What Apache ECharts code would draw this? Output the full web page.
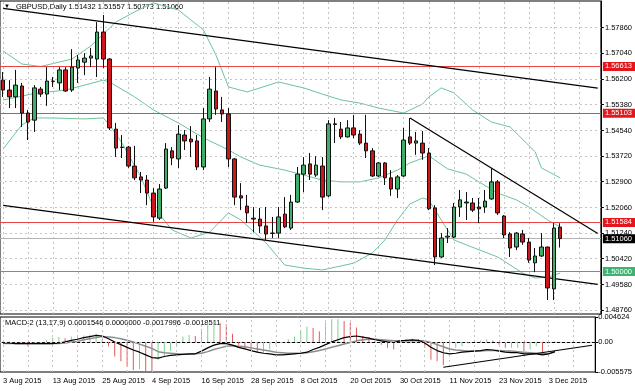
<!DOCTYPE html>
<html><head><meta charset="utf-8">
<script src="https://cdn.jsdelivr.net/npm/echarts@6/dist/echarts.min.js"></script>
<style>html,body{margin:0;padding:0;background:#fff}#c{width:635px;height:391px}</style>
</head><body><div id="c"></div><script>
const augDays=[3,4,5,6,7,10,11,12,13,14,17,18,19,20,21,24,25,26,27,28,31];
const sepDays=[1,2,3,4,7,8,9,10,11,14,15,16,17,18,21,22,23,24,25,28,29,30];
const octDays=[1,2,5,6,7,8,9,12,13,14,15,16,19,20,21,22,23,26,27,28,29,30];
const novDays=[2,3,4,5,6,9,10,11,12,13,16,17,18,19,20,23,24,25,26,27,30];
const decDays=[1,2,3,4];
const blankSlots=6;

// [open, close, low, high]
const candles=[
[1.5617,1.5585,1.5563,1.5643],[1.5585,1.5563,1.5527,1.5617],[1.5563,1.5601,1.5527,1.5650],[1.5598,1.5511,1.5466,1.5608],
[1.5511,1.5482,1.5424,1.5521],[1.5488,1.5592,1.5450,1.5601],[1.5588,1.5572,1.5563,1.5595],[1.5572,1.5614,1.5534,1.5659],
[1.5614,1.5613,1.5595,1.5627],[1.5608,1.5650,1.5585,1.5659],[1.5650,1.5582,1.5579,1.5659],[1.5585,1.5659,1.5579,1.5717],
[1.5656,1.5682,1.5608,1.5698],[1.5675,1.5688,1.5633,1.5704],[1.5688,1.5695,1.5659,1.5721],[1.5685,1.5772,1.5627,1.5804],
[1.5772,1.5685,1.5656,1.5827],[1.5685,1.5463,1.5456,1.5688],[1.5459,1.5398,1.5369,1.5479],[1.5401,1.5400,1.5366,1.5440],
[1.5401,1.5340,1.5334,1.5405],[1.5340,1.5302,1.5295,1.5405],[1.5305,1.5295,1.5253,1.5321],[1.5295,1.5253,1.5214,1.5311],
[1.5253,1.5176,1.5160,1.5269],[1.5172,1.5266,1.5166,1.5282],[1.5269,1.5395,1.5266,1.5414],[1.5389,1.5366,1.5343,1.5401],
[1.5363,1.5443,1.5334,1.5472],[1.5440,1.5421,1.5392,1.5456],[1.5427,1.5418,1.5369,1.5469],[1.5421,1.5337,1.5327,1.5440],
[1.5337,1.5492,1.5327,1.5527],[1.5492,1.5588,1.5482,1.5627],[1.5582,1.5524,1.5505,1.5659],[1.5521,1.5508,1.5482,1.5563],
[1.5508,1.5363,1.5337,1.5527],[1.5363,1.5240,1.5214,1.5366],[1.5244,1.5237,1.5198,1.5285],[1.5211,1.5189,1.5156,1.5247],
[1.5172,1.5169,1.5127,1.5208],[1.5169,1.5147,1.5124,1.5205],[1.5147,1.5121,1.5102,1.5208],[1.5124,1.5123,1.5108,1.5176],
[1.5124,1.5176,1.5108,1.5208],[1.5185,1.5144,1.5140,1.5240],[1.5140,1.5224,1.5134,1.5247],[1.5224,1.5314,1.5221,1.5337],
[1.5314,1.5343,1.5256,1.5369],[1.5347,1.5314,1.5295,1.5382],[1.5311,1.5343,1.5305,1.5372],[1.5340,1.5240,1.5198,1.5369],
[1.5244,1.5476,1.5240,1.5488],[1.5476,1.5474,1.5414,1.5495],[1.5459,1.5434,1.5427,1.5482],[1.5434,1.5463,1.5432,1.5488],
[1.5463,1.5440,1.5430,1.5505],[1.5443,1.5414,1.5408,1.5456],[1.5414,1.5389,1.5366,1.5505],[1.5389,1.5308,1.5305,1.5398],
[1.5308,1.5350,1.5305,1.5353],[1.5350,1.5302,1.5279,1.5353],[1.5302,1.5266,1.5244,1.5327],[1.5266,1.5305,1.5237,1.5311],
[1.5308,1.5424,1.5305,1.5463],[1.5434,1.5414,1.5408,1.5495],[1.5414,1.5421,1.5376,1.5450],[1.5414,1.5382,1.5360,1.5453],
[1.5382,1.5202,1.5198,1.5398],[1.5205,1.5047,1.5021,1.5214],[1.5047,1.5108,1.5044,1.5124],[1.5111,1.5114,1.5092,1.5140],
[1.5111,1.5208,1.5108,1.5221],[1.5208,1.5231,1.5176,1.5263],[1.5221,1.5224,1.5166,1.5256],[1.5221,1.5198,1.5192,1.5237],
[1.5208,1.5202,1.5156,1.5237],[1.5208,1.5227,1.5189,1.5263],[1.5234,1.5289,1.5231,1.5334],[1.5289,1.5189,1.5182,1.5295],
[1.5179,1.5118,1.5108,1.5182],[1.5121,1.5076,1.5047,1.5127],[1.5079,1.5124,1.5069,1.5127],[1.5121,1.5095,1.5086,1.5134],
[1.5095,1.5037,1.5028,1.5108],[1.5028,1.5050,1.4998,1.5076],[1.5050,1.5079,1.5047,1.5124],[1.5079,1.4947,1.4908,1.5080],
[1.4944,1.5140,1.4908,1.5156],[1.51432,1.51060,1.50773,1.51557]
];

const bbUpper=[[0,1.5711],[3,1.5669],[6,1.5661],[11,1.5685],[14,1.5727],[18,1.5804],[21,1.5837],[24,1.5866],[28,1.5843],[30,1.5811],[32,1.5779],[34,1.5698],[36,1.5595],[39,1.5579],[44,1.5611],[48,1.5592],[51,1.5572],[54,1.5553],[57,1.5543],[60,1.5527],[64,1.5511],[67,1.5540],[68,1.5563],[70,1.5592],[72,1.5576],[75,1.5521],[78,1.5482],[81,1.5466],[85,1.5386],[86,1.5334],[89,1.5302]];
const bbMiddle=[[0,1.5553],[5,1.5574],[10,1.5585],[16,1.5617],[17,1.5611],[21,1.5563],[24,1.5521],[28,1.5479],[32,1.5431],[36,1.5392],[38,1.5369],[41,1.5343],[45,1.5327],[48,1.5311],[51,1.5295],[54,1.5289],[57,1.5289],[60,1.5302],[63,1.5327],[65,1.5350],[68,1.5373],[71,1.5331],[74,1.5314],[76,1.5289],[79,1.5253],[82,1.5231],[84,1.5208],[87,1.5166],[89,1.5144]];
const bbLower=[[0,1.5395],[3,1.5473],[5,1.5495],[8,1.5495],[13,1.5492],[16,1.5495],[17,1.5473],[19,1.5414],[22,1.5305],[24,1.5208],[27,1.5134],[30,1.5108],[33,1.5127],[36,1.5189],[38,1.5166],[41,1.5111],[42,1.5092],[45,1.5021],[48,1.5011],[51,1.5005],[56,1.5027],[59,1.5060],[61,1.5102],[63,1.5166],[65,1.5218],[67,1.5237],[68,1.5231],[70,1.5166],[72,1.5102],[74,1.5086],[79,1.5047],[83,1.4995],[85,1.4979],[87,1.4982],[89,1.4995]];

const macdHist=[0.0002,0.0001,0.0,-0.0004,-0.0008,-0.0003,-0.0002,0.0003,0.0008,0.0009,0.0007,0.001,0.0011,0.0012,0.0014,0.0015,0.0006,-0.0008,-0.0027,-0.0036,-0.0046,-0.0052,-0.005,-0.0054,-0.0055,-0.0033,-0.0027,-0.0017,-0.0008,0.001,0.0013,0.0011,0.0024,0.0036,0.0039,0.0035,0.0033,0.0015,-0.0005,-0.0012,-0.0017,-0.002,-0.002,-0.0014,-0.0005,-0.0002,0.0005,0.001,0.0022,0.0028,0.0026,0.002,0.0036,0.0042,0.0042,0.0039,0.0036,0.0027,0.0011,0.0008,0.0002,-0.0005,-0.0011,-0.0014,0.0,0.0005,0.0006,0.0005,-0.0011,-0.0033,-0.0036,-0.0043,-0.0017,-0.0011,-0.0008,-0.0003,0.0,0.0002,0.0005,0.0002,-0.0005,-0.0011,-0.0011,-0.0011,-0.0017,-0.0014,-0.0008,-0.002,-0.0003,0.0001546];
const macdMain=[-0.0002,-0.0002,-0.0003,-0.0003,-0.0003,-0.0003,-0.0003,-0.0003,-0.0003,-0.0002,0.0,0.0003,0.0005,0.0008,0.001,0.0012,0.0011,0.0006,0.0,-0.0005,-0.001,-0.0015,-0.0019,-0.0024,-0.0029,-0.003,-0.0027,-0.0025,-0.0024,-0.0023,-0.0022,-0.0022,-0.0017,-0.0011,-0.0006,-0.0003,-0.0003,-0.0006,-0.001,-0.0013,-0.0016,-0.0019,-0.0021,-0.0022,-0.0024,-0.0024,-0.0023,-0.0022,-0.0021,-0.0019,-0.0014,-0.001,-0.0005,0.0,0.0004,0.0008,0.001,0.0011,0.0009,0.0007,0.0004,0.0002,0.0,-0.0001,0.0002,0.0003,0.0004,0.0003,-0.0002,-0.001,-0.0016,-0.002,-0.0022,-0.0021,-0.0019,-0.0018,-0.0017,-0.0016,-0.0014,-0.0015,-0.0017,-0.0019,-0.002,-0.002,-0.0022,-0.0022,-0.0022,-0.0024,-0.0022,-0.0018];
const macdSignal=[-0.0003,-0.0003,-0.0003,-0.0003,-0.0003,-0.0003,-0.0003,-0.0003,-0.0003,-0.0003,-0.0002,0.0,0.0001,0.0004,0.0006,0.0008,0.001,0.0009,0.0008,0.0006,0.0003,0.0,-0.0004,-0.0008,-0.0012,-0.0018,-0.002,-0.0021,-0.0022,-0.0023,-0.0023,-0.0022,-0.0021,-0.0018,-0.0014,-0.0011,-0.0008,-0.0007,-0.0008,-0.0009,-0.0011,-0.0013,-0.0015,-0.0017,-0.0019,-0.002,-0.0021,-0.0021,-0.0021,-0.002,-0.0018,-0.0016,-0.0013,-0.001,-0.0007,-0.0004,-0.0001,0.0002,0.0004,0.0005,0.0005,0.0004,0.0003,0.0002,0.0002,0.0002,0.0002,0.0002,0.0002,-0.0001,-0.0005,-0.0009,-0.0013,-0.0015,-0.0016,-0.0017,-0.0017,-0.0017,-0.0016,-0.0016,-0.0016,-0.0017,-0.0017,-0.0018,-0.0019,-0.002,-0.0021,-0.0022,-0.0022,-0.00185];

const priceTicks=[1.57860,1.57040,1.56200,1.55380,1.54540,1.53720,1.52900,1.52060,1.51240,1.50420,1.49580,1.48760];
const macdTicks=[0.004624,0,-0.005575];
const redLevels=[1.56613,1.55103,1.51584];
const greenLevel=1.50000;
const bidPrice=1.51060;
const trendTop=[[0,1.58482],[95,1.55910]];
const trendLow=[[0,1.52132],[95,1.49588]];
const trendDown=[[65,1.5495],[95,1.51229]];
const macdTrend=[[71,-0.0047],[95,-0.00062]];
const headerText='GBPUSD,Daily 1.51432 1.51557 1.50773 1.51060';
const macdHeader='MACD-2 (13,17,9) 0.0001546 0.0000000 -0.0017996 -0.0018511';

const mon=['Aug','Sep','Oct','Nov','Dec'];
const dates=[];
[augDays,sepDays,octDays,novDays,decDays].forEach((arr,k)=>arr.forEach(d=>dates.push(d+' '+mon[k]+' 2015')));
const cats=dates.concat(Array.from({length:blankSlots},()=>''));
const gridIdx=[];for(let i=0;i<cats.length;i+=4)gridIdx.push(i);

const FONT='Liberation Sans';
const chart=echarts.init(document.getElementById('c'),null,{renderer:'canvas'});
const dash={color:'#c4c4c4',type:[2,3],width:1};
const mlBase={silent:true,symbol:'none',animation:false,precision:6};

function boxLabel(v,bg){return {show:true,position:'end',distance:2,formatter:()=>v.toFixed(5),color:'#fff',backgroundColor:bg,padding:[1,3,0,2],fontSize:7.5,fontFamily:FONT};}

chart.setOption({
  animation:false,
  backgroundColor:'#fff',
  grid:[
    {left:-0.43,width:601.9,top:1,height:313,show:true,borderColor:'#000',borderWidth:1,backgroundColor:'transparent'},
    {left:-0.43,width:601.9,top:317,height:55,show:true,borderColor:'#000',borderWidth:1,backgroundColor:'transparent'}
  ],
  xAxis:[
    {type:'category',gridIndex:0,data:cats,show:false,boundaryGap:true},
    {type:'category',gridIndex:1,data:cats,boundaryGap:true,
      axisLine:{lineStyle:{color:'#000'}},
      axisTick:{alignWithLabel:true,interval:(i)=>i%4===0,length:3,lineStyle:{color:'#000'}},
      axisLabel:{interval:(i)=>i%8===0&&i<dates.length,align:'left',margin:5,fontSize:7.5,fontFamily:FONT,color:'#000'},
      splitLine:{show:false}}
  ],
  yAxis:[
    {type:'value',gridIndex:0,position:'right',min:1.48631,max:1.58721,scale:true,
      axisLine:{show:true,lineStyle:{color:'#000'}},
      axisTick:{show:true,length:3,customValues:priceTicks,lineStyle:{color:'#000'}},
      axisLabel:{customValues:priceTicks,formatter:v=>v.toFixed(5),margin:4,fontSize:7.5,fontFamily:FONT,color:'#000'},
      splitLine:{show:false}},
    {type:'value',gridIndex:1,position:'right',min:-0.005575,max:0.004624,
      axisLine:{show:true,lineStyle:{color:'#000'}},
      axisTick:{show:true,length:3,customValues:macdTicks,lineStyle:{color:'#000'}},
      axisLabel:{customValues:macdTicks,formatter:v=>v===0?'0.00':String(v),margin:3,fontSize:7.5,fontFamily:FONT,color:'#000'},
      splitLine:{show:false}}
  ],
  graphic:[
    {type:'text',left:4,top:3,style:{text:'▼',fontSize:6,fill:'#000'}},
    {type:'text',left:16,top:3,style:{text:headerText,fontSize:7.5,fontFamily:FONT,fill:'#000'}},
    {type:'text',left:5,top:319,style:{text:macdHeader,fontSize:7.5,fontFamily:FONT,fill:'#000'}}
  ],
  series:[
    {type:'line',xAxisIndex:0,yAxisIndex:0,data:[],markLine:Object.assign({},mlBase,{lineStyle:dash,label:{show:false},
      data:priceTicks.map(v=>({yAxis:v})).concat(gridIdx.map(i=>({xAxis:i})))})},
    {type:'line',xAxisIndex:1,yAxisIndex:1,data:[],markLine:Object.assign({},mlBase,{lineStyle:dash,label:{show:false},
      data:[{yAxis:0}].concat(gridIdx.map(i=>({xAxis:i})))})},
    {type:'line',xAxisIndex:0,yAxisIndex:0,data:bbUpper,symbol:'none',lineStyle:{color:'#6cc49a',width:1},z:2},
    {type:'line',xAxisIndex:0,yAxisIndex:0,data:bbMiddle,symbol:'none',lineStyle:{color:'#6cc49a',width:1},z:2},
    {type:'line',xAxisIndex:0,yAxisIndex:0,data:bbLower,symbol:'none',lineStyle:{color:'#6cc49a',width:1},z:2},
    {type:'candlestick',xAxisIndex:0,yAxisIndex:0,data:candles,barWidth:4,z:5,
      itemStyle:{color:'#3fae6a',color0:'#d0161b',borderColor:'#111',borderColor0:'#111',borderWidth:1},
      markLine:Object.assign({},mlBase,{data:[
        ...redLevels.map(v=>({yAxis:v,lineStyle:{color:'#e84545',width:1,type:'solid'},label:boxLabel(v,'#e3161c')})),
        {yAxis:greenLevel,lineStyle:{color:'#3cb371',width:1,type:'solid'},label:boxLabel(greenLevel,'#3cb371')},
        {yAxis:bidPrice,lineStyle:{color:'#b4b4b4',width:1,type:'solid'},label:boxLabel(bidPrice,'#000')},
        [{coord:trendTop[0]},{coord:trendTop[1]}],
        [{coord:trendLow[0]},{coord:trendLow[1]}],
        [{coord:trendDown[0]},{coord:trendDown[1]}]
      ].map(d=>Array.isArray(d)?[Object.assign({lineStyle:{color:'#000',width:1.2,type:'solid'},label:{show:false}},d[0]),d[1]]:d)})},
    {type:'bar',xAxisIndex:1,yAxisIndex:1,barWidth:1,
      data:macdHist.map((v,i)=>({value:v,itemStyle:{color:(i>0&&v<macdHist[i-1])?'#e05a5a':'#7fd18f'}}))},
    {type:'line',xAxisIndex:1,yAxisIndex:1,data:macdSignal,symbol:'none',lineStyle:{color:'#8c8c8c',width:1.5},z:3},
    {type:'line',xAxisIndex:1,yAxisIndex:1,data:macdMain,symbol:'none',lineStyle:{color:'#000',width:1.2},z:4,
      markLine:Object.assign({},mlBase,{data:[[{coord:macdTrend[0],lineStyle:{color:'#000',width:1.2,type:'solid'},label:{show:false}},{coord:macdTrend[1]}]]})}
  ]
});
</script></body></html>
